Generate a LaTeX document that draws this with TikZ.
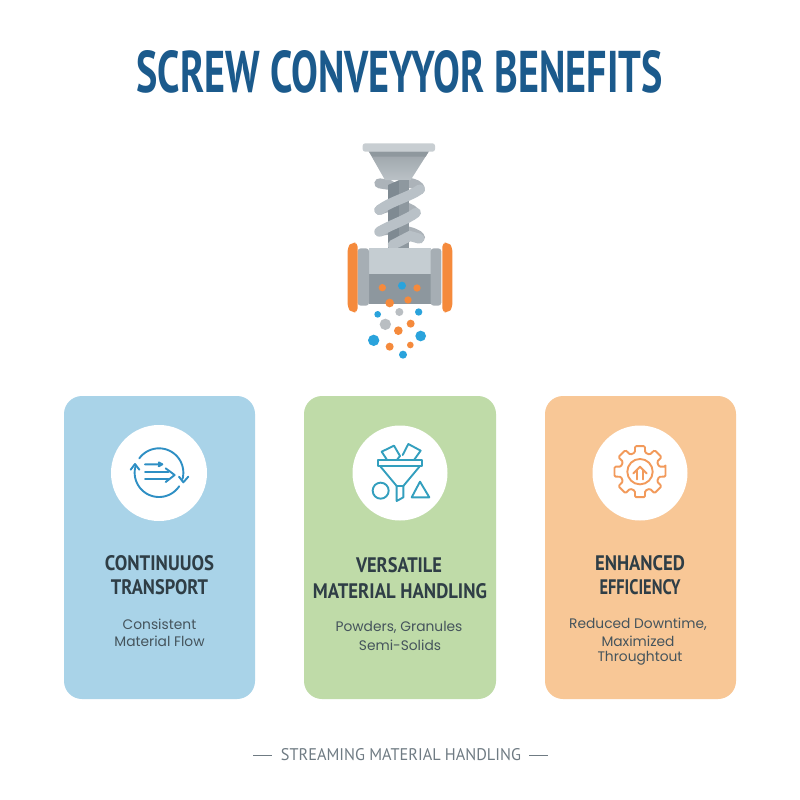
\documentclass[tikz,border=0pt]{standalone}
\usepackage{fontspec}
\usepackage{graphicx}
\setmainfont{PT Sans}
\newfontfamily\bodyfont{Poppins}
\definecolor{titleblue}{HTML}{1B5A8C}
\definecolor{headdark}{HTML}{2F3E46}
\definecolor{bodygrey}{HTML}{45545C}
\definecolor{footgrey}{HTML}{6F7B83}
\definecolor{cardblue}{HTML}{A9D3E8}
\definecolor{cardgreen}{HTML}{BFDBA8}
\definecolor{cardorange}{HTML}{F8C796}
\definecolor{iconblue}{HTML}{2E8FC4}
\definecolor{iconteal}{HTML}{339FBE}
\definecolor{iconorange}{HTML}{F29A5B}
\definecolor{dotorange}{HTML}{F58A3C}
\definecolor{dotblue}{HTML}{2AA3DC}
\definecolor{dotgrey}{HTML}{B9BEC2}
\definecolor{bandgrey}{HTML}{B9C1C7}
\definecolor{funneltop}{HTML}{9BA3A9}
\definecolor{funnelbot}{HTML}{BAC1C6}
\definecolor{funnelband}{HTML}{8F989E}
\definecolor{lidgrey}{HTML}{C8CED2}
\definecolor{shaftdark}{HTML}{7F8A92}
\definecolor{shaftlight}{HTML}{8E989F}
\definecolor{bodylight}{HTML}{C5CDD2}
\definecolor{bodydark}{HTML}{8D979E}
\definecolor{capgrey}{HTML}{A6AEB4}
\newcommand{\fitted}[3]{\resizebox{#1pt}{#2pt}{#3}}
\tikzset{
  card/.style={rounded corners=18pt},
  badge/.style={fill=white,draw=none},
  txt/.style={inner sep=0pt,outer sep=0pt,anchor=center},
  title/.style={txt,text=titleblue,font=\bfseries},
  head/.style={txt,text=headdark,font=\bfseries},
  body/.style={txt,text=bodygrey,font=\bodyfont\fontsize{13.8pt}{15pt}\selectfont},
  foot/.style={txt,text=footgrey},
  zoomview/.style={x=0.33333pt,y=-0.33333pt},
  iconline/.style={line width=1.9pt,line cap=round,line join=round},
  band/.style={line width=10pt,line cap=round,draw=bandgrey},
  bandback/.style={line width=10pt,line cap=round,draw=bandgrey!93!black},
}
\begin{document}
\begin{tikzpicture}[x=1pt,y=-1pt]
\useasboundingbox (0,0) rectangle (800,800);
\fill[white] (0,0) rectangle (800,800);

% Title
\node[title] (maintitle) at (399.5,72) {\fitted{526}{42}{SCREW CONVEYYOR BENEFITS}};

% Screw conveyor illustration (coordinates as in a 3x crop)
\begin{scope}[shift={(320,130)},zoomview]
  % back bands
  \draw[bandback] (178,160) -- (210,165);
  \draw[bandback] (262,158) .. controls (285,160) and (298,168) .. (300,178);
  \draw[bandback] (178,240) .. controls (215,222) and (265,225) .. (285,248);
  \draw[bandback] (178,305) .. controls (215,290) and (290,305) .. (300,322);
  % funnel
  \shade[top color=funneltop,bottom color=funnelbot] (145,62) -- (328,62) -- (272,150) -- (195,150) -- cycle;
  \fill[funnelband] (148,66) -- (325,66) -- (317,80) -- (157,80) -- cycle;
  \fill[rounded corners=2.5pt,lidgrey] (128,40) rectangle (345,65);
  % shaft
  \fill[shaftdark] (204,165) -- (238,150) -- (238,355) -- (204,355) -- cycle;
  \fill[shaftlight] (238,150) -- (268,150) -- (268,355) -- (238,355) -- cycle;
  % front bands
  \draw[band] (300,178) .. controls (270,200) and (210,215) .. (178,240);
  \draw[band] (288,248) .. controls (260,270) and (210,285) .. (178,305);
  \draw[band] (218,345) -- (270,318) -- (298,326);
  % body
  \fill[bodylight] (147,355) rectangle (332,432);
  \fill[bodydark] (147,432) rectangle (332,522);
  \fill[rounded corners=3pt,capgrey] (113,355) rectangle (147,527);
  \fill[rounded corners=3pt,capgrey] (332,355) rectangle (364,527);
  % flanges
  \fill[dotorange,rounded corners=4pt] (113,338) -- (95,338) -- (83,350) -- (83,535) -- (95,547) -- (113,547) -- cycle;
  \fill[dotorange,rounded corners=4pt] (367,338) -- (385,338) -- (397,350) -- (397,535) -- (385,547) -- (367,547) -- cycle;
  % material dots
  \foreach \px/\py/\pr/\pc in {
    187/473/11/dotorange, 246/467/12/dotblue, 291/474/11/dotorange,
    209/519/13/dotorange, 264/510/11/dotorange,
    173/553/10/dotblue, 238/546/12/dotgrey, 296/546/11/dotblue,
    196/583/17/dotgrey, 272/581/12/dotorange, 235/602/13/dotorange,
    161/631/17/dotblue, 302/618/16/dotblue,
    209/650/12/dotorange, 271/645/10/dotorange, 249/674/12/dotblue}
    \fill[\pc] (\px,\py) circle[radius=\pr*0.3333pt];
\end{scope}

% Cards
\fill[card,cardblue] (64,396) rectangle (255,699);
\fill[card,cardgreen] (304,396) rectangle (496,699);
\fill[card,cardorange] (545,396) rectangle (736,699);

% Badges
\node[badge,circle,minimum size=96pt,inner sep=0pt] (badgeA) at (159,473) {};
\node[badge,circle,minimum size=95pt,inner sep=0pt] (badgeB) at (400,473) {};
\node[badge,circle,minimum size=95pt,inner sep=0pt] (badgeC) at (640,473) {};

% Icon A: circular flow
\begin{scope}[shift={(100,420)},zoomview,draw=iconblue,iconline]
  \draw plot[smooth,domain=-144:15,samples=40] ({177+73*cos(\x)},{158+73*sin(\x)});
  \draw (237,170) -- (250,187) -- (265,170);
  \draw plot[smooth,domain=34:194,samples=40] ({177+73*cos(\x)},{158+73*sin(\x)});
  \draw (92,149) -- (105,132) -- (118,149);
  \draw (135,133) -- (186,133) (176,127) -- (187,133) -- (176,139);
  \draw (135,155) -- (205,155) (135,177) -- (205,177);
  \draw (197,145) -- (224,165) -- (197,186);
\end{scope}

% Icon B: funnel and shapes
\begin{scope}[shift={(340,420)},zoomview,draw=iconteal,iconline]
  \draw (115,120) rectangle (245,138);
  \draw (120,138) -- (170,198) -- (170,243) -- (190,232) -- (190,198) -- (240,138);
  \draw (170,198) -- (190,198);
  \draw (140,118) -- (125,95) -- (162,77) -- (180,108) -- (172,118);
  \draw (188,105) -- (205,72) -- (242,92) -- (222,120);
  \draw (122,212) circle[radius=8pt];
  \draw (240,185) -- (268,232) -- (215,232) -- cycle;
\end{scope}

% Icon C: gear with arrow
\begin{scope}[shift={(580,420)},zoomview,draw=iconorange,iconline]
  \draw[rounded corners=1.2pt] ({180+78*cos(-11)},{155+78*sin(-11)})
    \foreach \a in {0,45,...,315} {
      -- ({180+78*cos(\a-11)},{155+78*sin(\a-11)})
      -- ({180+78*cos(\a+11)},{155+78*sin(\a+11)})
      -- ({180+59*cos(\a+15)},{155+59*sin(\a+15)})
      -- ({180+59*cos(\a+30)},{155+59*sin(\a+30)})
    } -- cycle;
  \draw (180,155) circle[radius=12.7pt];
  \draw (160,160) -- (180,140) -- (200,160);
  \draw (172,150) -- (172,178) (188,150) -- (188,178);
\end{scope}

% Card A text
\node[head] (headA1) at (159.5,563) {\fitted{109}{15}{CONTINUUOS}};
\node[head] (headA2) at (159.5,587) {\fitted{97}{15}{TRANSPORT}};
\node[body] (bodyA1) at (159.5,624) {Consistent};
\node[body] (bodyA2) at (159.5,641) {Material Flow};

% Card B text
\node[head] (headB1) at (399,565) {\fitted{86}{15}{VERSATILE}};
\node[head] (headB2) at (400,591) {\fitted{174}{15}{MATERIAL HANDLING}};
\node[body] (bodyB1) at (399,627) {Powders, Granules};
\node[body] (bodyB2) at (400,645) {Semi-Solids};

% Card C text
\node[head] (headC1) at (640,563) {\fitted{90}{15}{ENHANCED}};
\node[head] (headC2) at (640,587) {\fitted{81}{15}{EFFICIENCY}};
\node[body] (bodyC1) at (638,624) {Reduced Downtime,};
\node[body] (bodyC2) at (638,641) {Maximized};
\node[body] (bodyC3) at (640,658) {Throughtout};

% Footer
\node[foot] (footer) at (401,755) {\fitted{240}{12}{STREAMING MATERIAL HANDLING}};
\coordinate (ruleLa) at (253,755);
\coordinate (ruleLb) at (272,755);
\coordinate (ruleRa) at (529,755);
\coordinate (ruleRb) at (548,755);
\draw[footgrey,line width=0.8pt] (ruleLa) -- (ruleLb);
\draw[footgrey,line width=0.8pt] (ruleRa) -- (ruleRb);
\end{tikzpicture}
\end{document}
